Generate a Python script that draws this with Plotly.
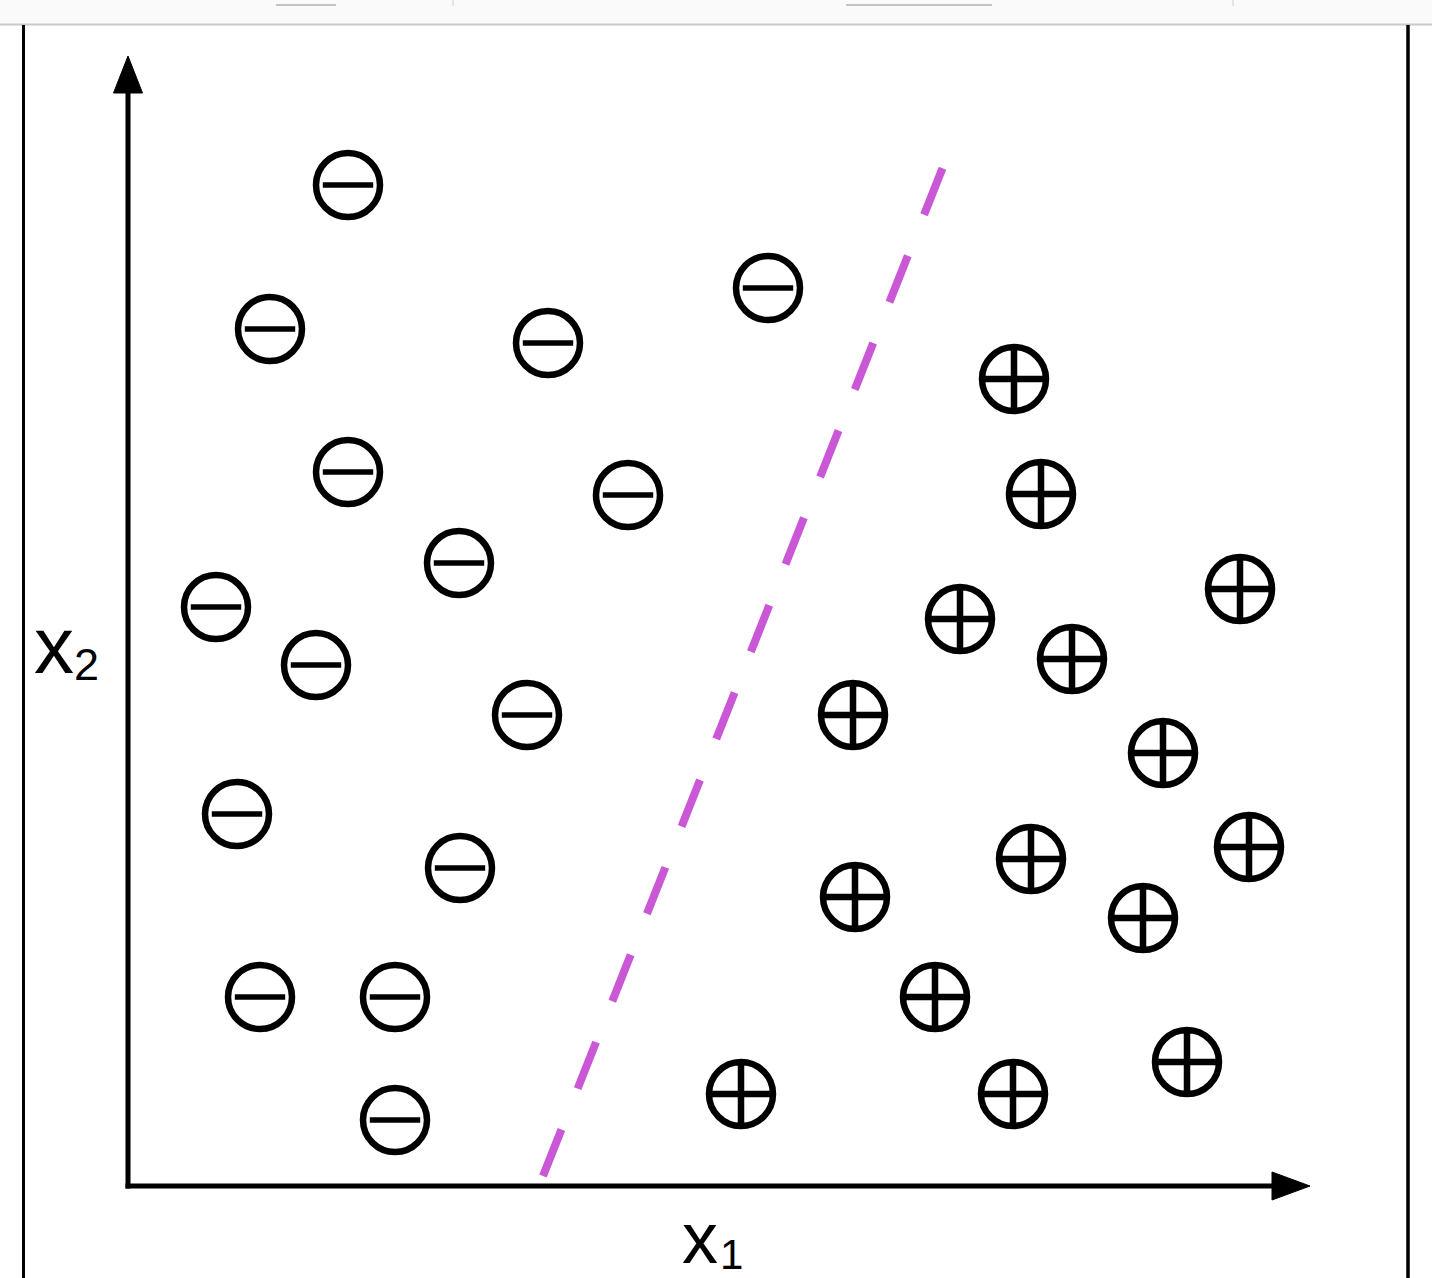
import plotly.graph_objects as go

# ---------------- data ----------------
neg_x = [2.20, 1.42, 4.20, 6.40, 2.20, 5.00, 3.31, 0.88, 1.88, 3.99, 1.09, 3.32, 1.32, 2.67, 2.67]
neg_y = [10.01, 8.57, 8.43, 8.98, 7.14, 6.91, 6.23, 5.79, 5.21, 4.71, 3.72, 3.18, 1.89, 1.89, 0.66]

pos_x = [8.86, 9.13, 8.32, 11.12, 9.44, 7.25, 10.35, 9.03, 11.21, 7.27, 10.15, 8.07, 10.59, 6.13, 8.85]
pos_y = [8.07, 6.92, 5.67, 5.97, 5.27, 4.71, 4.33, 3.27, 3.39, 2.89, 2.68, 1.89, 1.24, 0.92, 0.92]

boundary_x = [4.15, 8.15]
boundary_y = [0.10, 10.19]

x_label = "x"
x_sub = "1"
y_label = "x"
y_sub = "2"

# ---------------- layout geometry ----------------
W, H = 1432, 1278
L, R, T, B = 128, 122, 56, 92
PW, PH = W - L - R, H - T - B
X_MAX, Y_MAX = PW / 100.0, PH / 100.0


def px(xp):
    return (xp - L) / PW


def py(yp):
    return (H - B - yp) / PH


BLACK = "#000000"
MAGENTA = "#c957d6"

fig = go.Figure()

fig.add_trace(go.Scatter(
    x=boundary_x, y=boundary_y, mode="lines",
    line=dict(color=MAGENTA, width=8, dash="50px,44px"),
    hoverinfo="skip", showlegend=False))

fig.add_trace(go.Scatter(
    x=neg_x, y=neg_y, mode="markers", cliponaxis=False,
    marker=dict(symbol="circle-open", size=64, color=BLACK,
                line=dict(color=BLACK, width=6.5)),
    showlegend=False))
fig.add_trace(go.Scatter(
    x=neg_x, y=neg_y, mode="markers", cliponaxis=False,
    marker=dict(symbol="line-ew", size=36, color=BLACK,
                line=dict(color=BLACK, width=5.5)),
    showlegend=False))
fig.add_trace(go.Scatter(
    x=pos_x, y=pos_y, mode="markers", cliponaxis=False,
    marker=dict(symbol="circle-cross-open", size=64, color=BLACK,
                line=dict(color=BLACK, width=6.5)),
    showlegend=False))

shapes = []
AX, AY = 128, 1186      # axis origin in pixels
TIP_Y, TIP_X = 56, 1310  # arrow tips in pixels
# axis lines
shapes.append(dict(type="line", xref="paper", yref="paper", x0=px(AX), y0=py(AY + 2.5), x1=px(AX), y1=py(TIP_Y + 30),
                   line=dict(color=BLACK, width=5)))
shapes.append(dict(type="line", xref="paper", yref="paper", x0=px(AX - 2.5), y0=py(AY), x1=px(TIP_X - 30), y1=py(AY),
                   line=dict(color=BLACK, width=5)))
# arrowheads
shapes.append(dict(type="path", xref="paper", yref="paper",
                   path=(f"M {px(AX-14.5)},{py(TIP_Y+37)} L {px(AX+14.5)},{py(TIP_Y+37)} "
                         f"L {px(AX)},{py(TIP_Y)} Z"),
                   fillcolor=BLACK, line=dict(color=BLACK, width=1)))
shapes.append(dict(type="path", xref="paper", yref="paper",
                   path=(f"M {px(TIP_X-38)},{py(AY-14)} L {px(TIP_X-38)},{py(AY+14)} "
                         f"L {px(TIP_X)},{py(AY)} Z"),
                   fillcolor=BLACK, line=dict(color=BLACK, width=1)))
# page frame: top toolbar strip and side borders
shapes.append(dict(type="rect", xref="paper", yref="paper", x0=px(0), x1=px(W), y0=py(24), y1=py(0),
                   fillcolor="#fafafa", line=dict(width=0), layer="below"))
shapes.append(dict(type="line", xref="paper", yref="paper", x0=px(0), x1=px(W), y0=py(24.5), y1=py(24.5),
                   line=dict(color="#c8c8c8", width=2)))
for a, b in [(276, 336), (846, 992)]:
    shapes.append(dict(type="line", xref="paper", yref="paper", x0=px(a), x1=px(b), y0=py(5), y1=py(5),
                       line=dict(color="#c4c4c4", width=2)))
for s in [453, 1233]:
    shapes.append(dict(type="line", xref="paper", yref="paper", x0=px(s), x1=px(s), y0=py(0), y1=py(6),
                       line=dict(color="#d0d0d0", width=1)))
shapes.append(dict(type="line", xref="paper", yref="paper", x0=px(23.5), x1=px(23.5), y0=py(25), y1=py(H),
                   line=dict(color=BLACK, width=3)))
shapes.append(dict(type="line", xref="paper", yref="paper", x0=px(1408), x1=px(1408), y0=py(25), y1=py(H),
                   line=dict(color=BLACK, width=3.5)))

FONT = "Liberation Sans, Arial, sans-serif"
annotations = [
    dict(text=y_label, xref="paper", yref="paper", x=px(54), y=py(646), xanchor="center", yanchor="middle",
         showarrow=False, font=dict(family=FONT, size=80, color=BLACK)),
    dict(text=y_sub, xref="paper", yref="paper", x=px(86), y=py(664), xanchor="center", yanchor="middle",
         showarrow=False, font=dict(family=FONT, size=45, color=BLACK)),
    dict(text=x_label, xref="paper", yref="paper", x=px(700), y=py(1238), xanchor="center", yanchor="middle",
         showarrow=False, font=dict(family=FONT, size=72, color=BLACK)),
    dict(text=x_sub, xref="paper", yref="paper", x=px(731), y=py(1254), xanchor="center", yanchor="middle",
         showarrow=False, font=dict(family=FONT, size=42, color=BLACK)),
]

fig.update_layout(
    width=W, height=H,
    margin=dict(l=L, r=R, t=T, b=B, pad=0),
    paper_bgcolor="white", plot_bgcolor="white",
    xaxis=dict(range=[0, X_MAX], visible=False, fixedrange=True),
    yaxis=dict(range=[0, Y_MAX], visible=False, fixedrange=True),
    shapes=shapes, annotations=annotations,
    showlegend=False,
)

fig.write_html("out.html", config={"displayModeBar": False},
               post_script="document.body.style.margin='0';document.body.style.overflow='hidden';")
